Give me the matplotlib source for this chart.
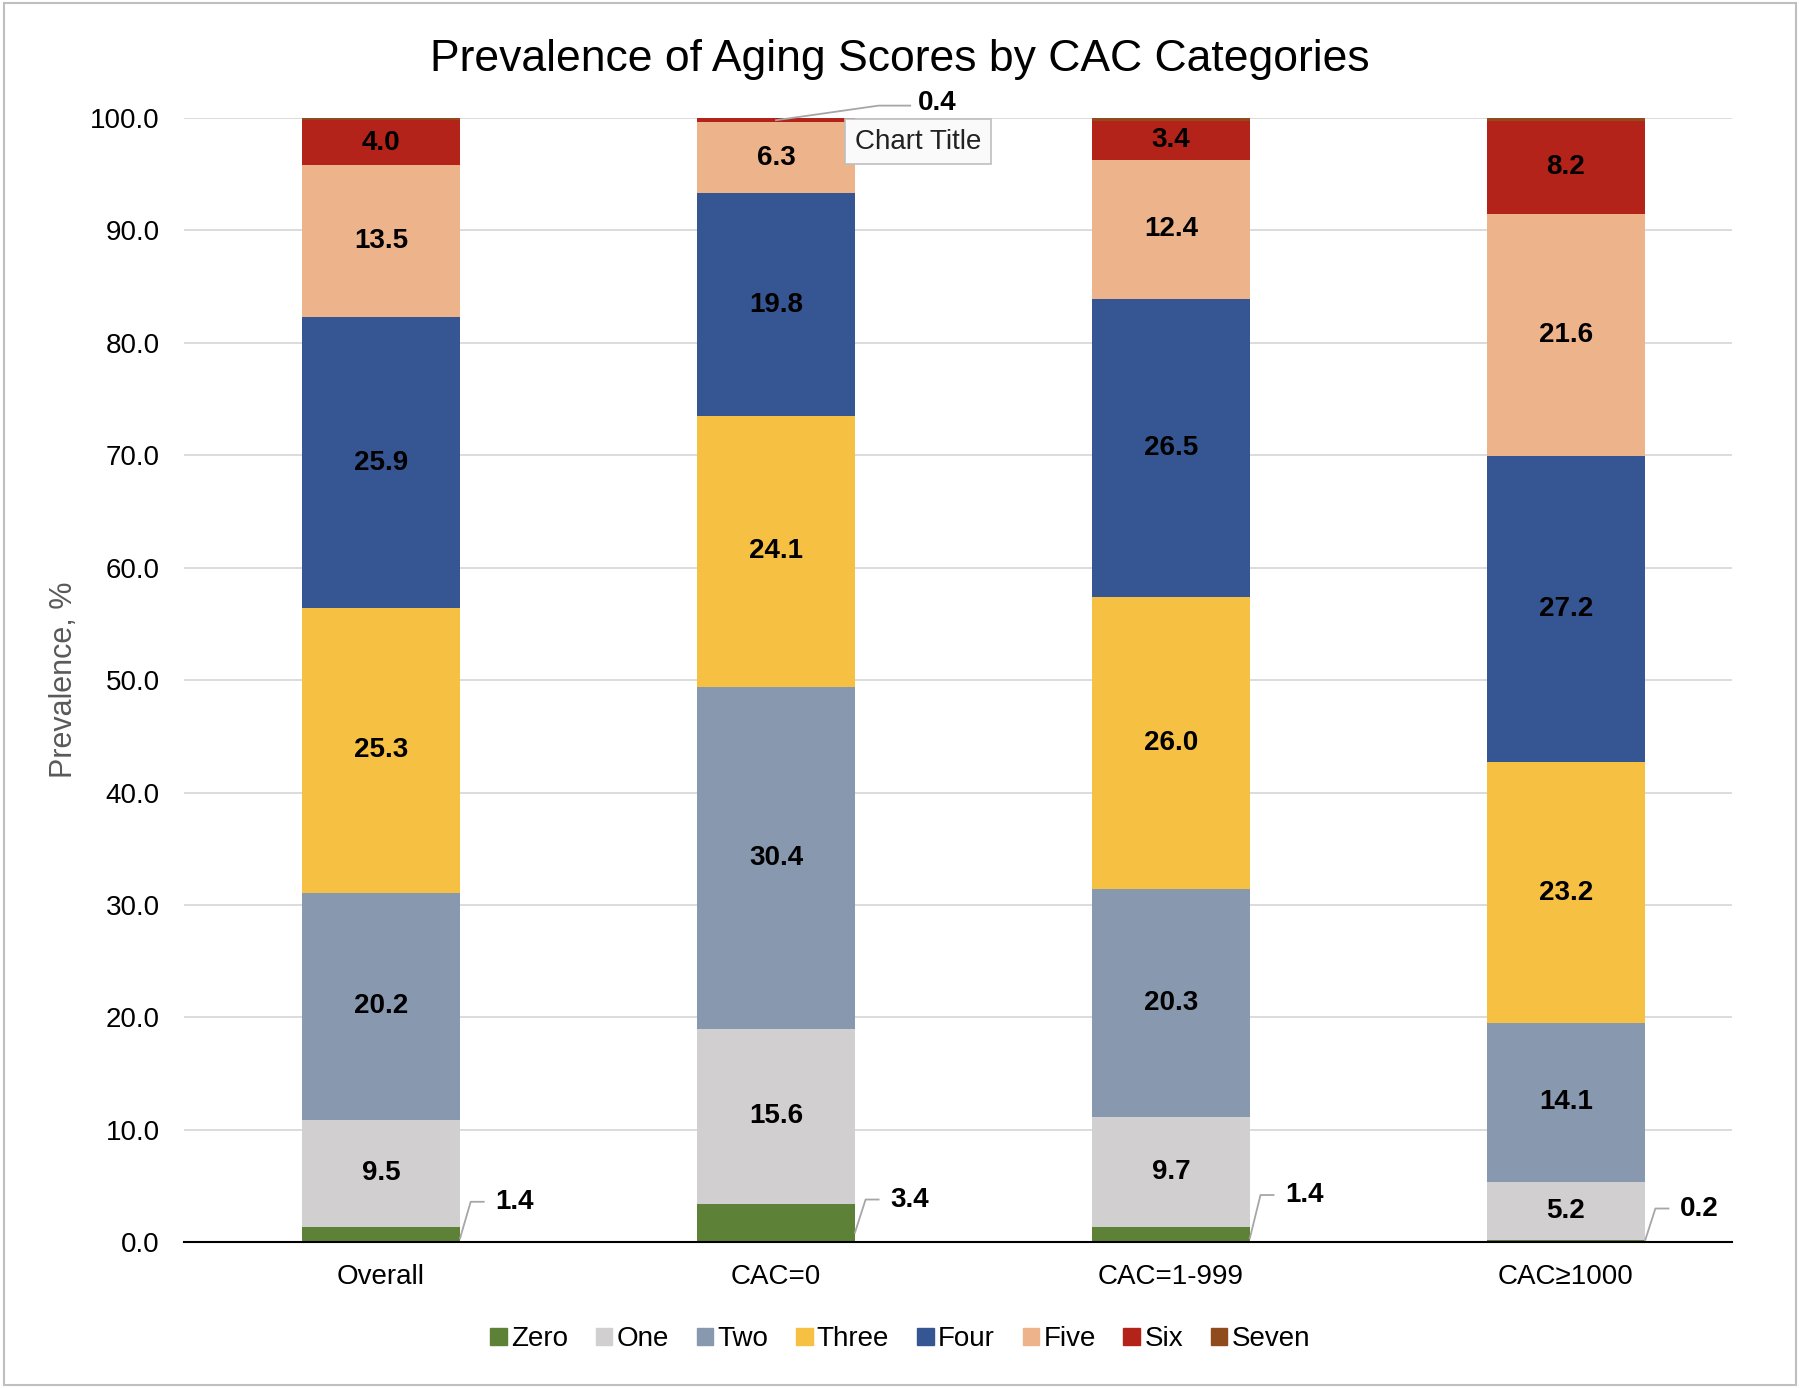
import matplotlib.pyplot as plt
import matplotlib.patches as mpatches
import numpy as np

plt.rcParams['font.family'] = ['Liberation Sans', 'DejaVu Sans']

# data
categories = ['Overall', 'CAC=0', 'CAC=1-999', 'CAC≥1000']
scores = ['Zero', 'One', 'Two', 'Three', 'Four', 'Five', 'Six', 'Seven']
zero = [1.4, 3.4, 1.4, 0.2]
one = [9.5, 15.6, 9.7, 5.2]
two = [20.2, 30.4, 20.3, 14.1]
three = [25.3, 24.1, 26.0, 23.2]
four = [25.9, 19.8, 26.5, 27.2]
five = [13.5, 6.3, 12.4, 21.6]
six = [4.0, 0.4, 3.4, 8.2]
seven = [0.2, 0.0, 0.3, 0.3]
series = [zero, one, two, three, four, five, six, seven]
colors = ['#5E8138', '#D1CFCF', '#8898AF', '#F6C143', '#365593', '#EDB38B', '#B3231A', '#8F4A1E']

fig = plt.figure(figsize=(18, 13.88), dpi=100)
ax = fig.add_axes([0.102, 0.105, 0.86, 0.81])

x = np.arange(len(categories))
w = 0.40
bottom = np.zeros(len(categories))
for name, vals, c in zip(scores, series, colors):
    vals = np.array(vals)
    ax.bar(x, vals, w, bottom=bottom, color=c, label=name, zorder=2)
    # labels inside the big segments
    if name not in ('Zero', 'Seven'):
        for i, v in enumerate(vals):
            if v >= 1:
                ax.text(x[i], bottom[i] + v / 2, f'{v:.1f}', ha='center', va='center',
                        fontsize=20, fontweight='bold', color='black', zorder=3)
    bottom += vals

# zero labels with leader lines
z_offsets = [3.6, 3.8, 4.2, 3.0]
for i, v in enumerate(zero):
    xe = x[i] + w / 2
    yt = z_offsets[i]
    ax.plot([xe, xe + 0.027, xe + 0.06], [v / 4, yt, yt], color='#A6A6A6', lw=1.3, zorder=3)
    ax.text(xe + 0.09, yt, f'{v:.1f}', ha='left', va='center', fontsize=20,
            fontweight='bold', zorder=3)

# the small "Six" segment of CAC=0 is labelled above the bar
top6 = sum(s[1] for s in series[:6]) + six[1] / 2
ax.plot([x[1], x[1] + 0.26, x[1] + 0.34], [top6, 101.1, 101.1], color='#A6A6A6', lw=1.3,
        zorder=3, clip_on=False)
ax.text(x[1] + 0.36, 101.3, f'{six[1]:.1f}', ha='left', va='center', fontsize=20,
        fontweight='bold', zorder=3, clip_on=False)

# tooltip left on the screenshot
ax.text(x[1] + 0.36, 97.9, 'Chart Title', ha='center', va='center', fontsize=20, zorder=5,
        color='#222222',
        bbox=dict(boxstyle='square,pad=0.35', facecolor='#FAFAFA', edgecolor='#BFBFBF', lw=1.2))

ax.set_ylim(0, 100)
ax.set_xlim(-0.5, 3.42)
ax.set_yticks(np.arange(0, 101, 10))
ax.set_yticklabels([f'{t:.1f}' for t in np.arange(0, 101, 10)], fontsize=20)
ax.set_xticks(x)
ax.set_xticklabels(categories, fontsize=20)
ax.tick_params(axis='x', length=0, pad=16)
ax.tick_params(axis='y', length=0, pad=17)
ax.grid(axis='y', color='#D9D9D9', lw=1.3, zorder=0)
ax.set_axisbelow(True)
for s in ['left', 'right', 'top']:
    ax.spines[s].set_visible(False)
ax.spines['bottom'].set_color('black')
ax.spines['bottom'].set_linewidth(1.5)
ax.spines['bottom'].set_zorder(4)

ax.set_ylabel('Prevalence, %', fontsize=22, color='#595959', labelpad=8)
fig.suptitle('Prevalence of Aging Scores by CAC Categories', fontsize=32, y=0.972)

handles = [mpatches.Patch(color=c, label=n) for n, c in zip(scores, colors)]
fig.legend(handles=handles, loc='center', bbox_to_anchor=(0.5, 0.035), ncol=8, frameon=False,
           fontsize=20, handlelength=0.6, handleheight=0.6, handletextpad=0.15, columnspacing=1.0)

fig.add_artist(mpatches.Rectangle((0.002, 0.002), 0.996, 0.996, transform=fig.transFigure,
                                  fill=False, edgecolor='#BFBFBF', lw=1.5))

plt.savefig('out.png', dpi=100)
